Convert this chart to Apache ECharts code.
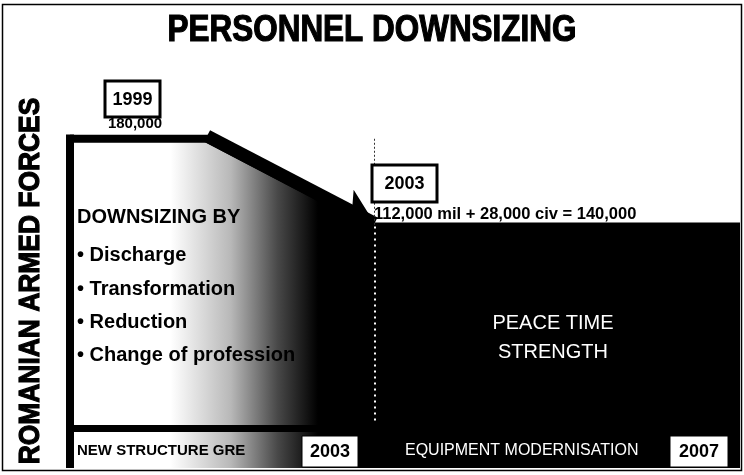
<!DOCTYPE html>
<html>
<head>
<meta charset="utf-8">
<script src="https://cdn.jsdelivr.net/npm/echarts@6/dist/echarts.min.js"></script>
<style>
  html, body { margin: 0; padding: 0; background: #fff; }
  #chart { width: 744px; height: 475px; }
</style>
</head>
<body>
<div id="chart"></div>
<script>
// personnel strength of the armed forces
var years = [1999, 2000.8, 2003, 2007.8];
var strength = [180000, 180000, 140000, 140000];
var milStaff = 112000;
var civStaff = 28000;
var milestones = ['1999', '2003', '2007'];
var measures = ['Discharge', 'Transformation', 'Reduction', 'Change of profession'];

var arial = "'Liberation Sans', Arial, sans-serif";

function fmt(v) { return v.toLocaleString('en-US'); }

// framed year label
function yearBox(x, y, w, h, text, lw) {
    return [
        { type: 'rect', z: 100, shape: { x: x, y: y, width: w, height: h },
          style: { fill: '#fff', stroke: '#000', lineWidth: lw } },
        { type: 'text', z: 101, x: x + w / 2, y: y + h / 2 + 1,
          style: { text: text, font: 'bold 18px ' + arial, fill: '#000', align: 'center', verticalAlign: 'middle' } }
    ];
}

function label(x, y, text, font, color, align) {
    return { type: 'text', z: 100, x: x, y: y,
        style: { text: text, font: font, fill: color || '#000', align: align || 'left', verticalAlign: 'middle' } };
}

var chart = echarts.init(document.getElementById('chart'));

var graphics = [
    { type: 'rect', z: 100, shape: { x: 2.5, y: 4.5, width: 739, height: 466 },
      style: { fill: 'transparent', stroke: '#000', lineWidth: 1.5 } },
    { type: 'text', z: 100, x: 372, y: 31, scaleX: 0.85,
      style: { text: 'PERSONNEL DOWNSIZING', font: 'bold 37px ' + arial, fill: '#000',
               stroke: '#000', lineWidth: 1.2, align: 'center', verticalAlign: 'middle' } },
    { type: 'text', z: 100, x: 31, y: 281, rotation: Math.PI / 2, scaleX: 0.88,
      style: { text: 'ROMANIAN ARMED FORCES', font: 'bold 30px ' + arial, fill: '#000',
               stroke: '#000', lineWidth: 1.2, align: 'center', verticalAlign: 'middle' } },
    label(135, 124, fmt(strength[0]), 'bold 15px ' + arial, '#000', 'center'),
    label(374, 214, fmt(milStaff) + ' mil + ' + fmt(civStaff) + ' civ = ' + fmt(milStaff + civStaff), 'bold 16.5px ' + arial),
    label(77, 217, 'DOWNSIZING BY', 'bold 20px ' + arial),
    label(553, 323, 'PEACE TIME', '20px ' + arial, '#fff', 'center'),
    label(553, 352, 'STRENGTH', '20px ' + arial, '#fff', 'center'),
    label(77, 451, 'NEW STRUCTURE GRE', 'bold 15px ' + arial),
    label(405, 451, 'EQUIPMENT MODERNISATION', '16px ' + arial, '#fff')
].concat(
    yearBox(105, 81, 55, 36, milestones[0], 3),
    yearBox(372, 165, 65, 37, milestones[1], 3),
    yearBox(302, 436, 56, 31, milestones[1], 1),
    yearBox(670, 436, 58, 31, milestones[2], 1)
);
measures.forEach(function (m, i) {
    graphics.push(label(77, [255, 289, 322, 355][i], '\u2022 ' + m, 'bold 20px ' + arial));
});

chart.setOption({
    animation: false,
    grid: { left: 70, right: 4, top: 130, bottom: 7 },
    xAxis: { type: 'value', min: 1999, max: 2007.8, show: false },
    yAxis: { type: 'value', min: 30000, max: 184000, show: false },
    graphic: graphics,
    series: [{
        type: 'line',
        data: years.map(function (y, i) { return [y, strength[i]]; }),
        symbol: 'none',
        clip: false,
        lineStyle: { color: '#000', width: 8, join: 'miter' },
        areaStyle: {
            opacity: 1, origin: 'start',
            color: new echarts.graphic.LinearGradient(0, 0, 1, 0, [
                { offset: 0, color: '#fff' },
                { offset: 0.15, color: '#fff' },
                { offset: 0.24, color: '#b8b8b8' },
                { offset: 0.31, color: '#484848' },
                { offset: 0.37, color: '#000' },
                { offset: 1, color: '#000' }
            ])
        },
        markLine: {
            silent: true, animation: false,
            label: { show: false },
            data: [
                // left border of the box
                [ { coord: [1999, 182000], symbol: 'none', lineStyle: { color: '#000', width: 8, type: 'solid' } },
                  { coord: [1999, 30000], symbol: 'none' } ],
                // downsizing arrow
                [ { coord: [years[1], strength[1] + 1300], symbol: 'none', lineStyle: { color: '#000', width: 13, type: 'solid' } },
                  { coord: [2003, 141500], symbol: 'arrow', symbolSize: [30, 34] } ],
                [ { coord: [2003, 180000], symbol: 'none', lineStyle: { color: '#333', width: 1, type: [2, 2] } },
                  { coord: [2003, 140000], symbol: 'none' } ],
                [ { coord: [2003, 140000], symbol: 'none', lineStyle: { color: '#fff', width: 2, type: [2, 4] } },
                  { coord: [2003, 50000], symbol: 'none' } ],
                [ { coord: [1999, 48000], symbol: 'none', lineStyle: { color: '#000', width: 7, type: 'solid' } },
                  { coord: [2003, 48000], symbol: 'none' } ]
            ]
        }
    }]
});
</script>
</body>
</html>
